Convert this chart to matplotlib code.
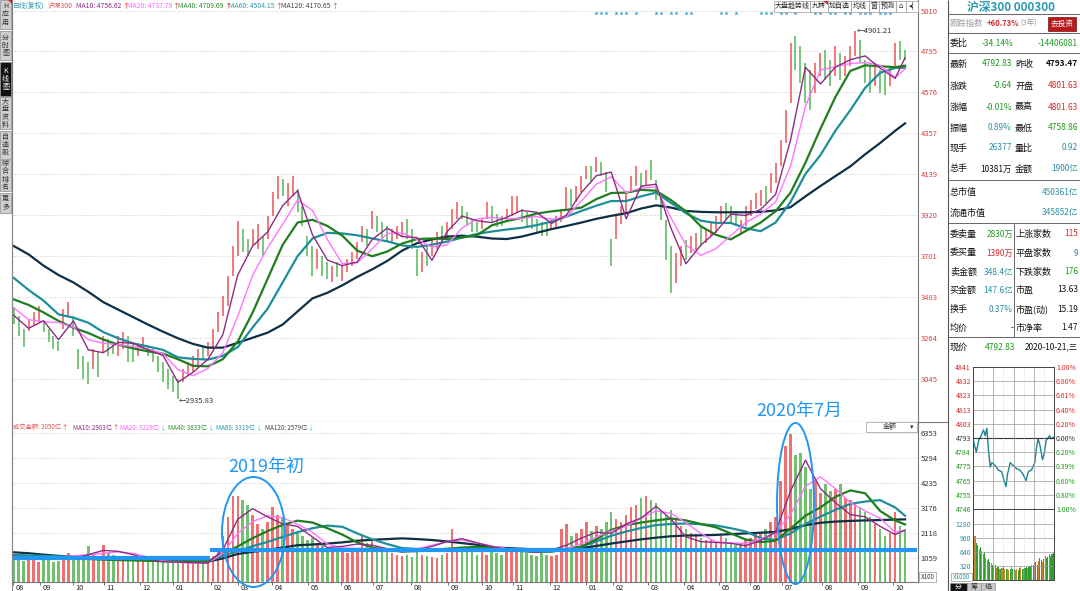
import numpy as np
import matplotlib.pyplot as plt
from matplotlib.patches import Ellipse, Rectangle, Polygon
from matplotlib.transforms import blended_transform_factory

plt.rcParams['font.family'] = ['Noto Sans CJK SC', 'DejaVu Sans']

# ---  DATA  --- #
# Daily K line of CSI 300, one bar every 3 trading days (Aug 2018 - Oct 2020)
k_high = [3427, 3383, 3311, 3365, 3400, 3436, 3356, 3311, 3276, 3249,
          3418, 3454, 3383, 3205, 3169, 3133, 3205, 3187, 3276, 3258,
          3240, 3276, 3293, 3276, 3240, 3222, 3267, 3222, 3205, 3169,
          3133, 3098, 3062, 3044, 3098, 3133, 3169, 3205, 3222, 3240,
          3311, 3400, 3489, 3596, 3756, 3890, 3845, 3792, 3845, 3872,
          3810, 3916, 4041, 4130, 4112, 4094, 4130, 4059, 3970, 3810,
          3756, 3738, 3703, 3667, 3649, 3667, 3649, 3685, 3721, 3774,
          3863, 3845, 3943, 3916, 3881, 3863, 3845, 3863, 3881, 3899,
          3845, 3738, 3721, 3756, 3792, 3828, 3863, 3881, 3952, 3988,
          3970, 3934, 3899, 3881, 3899, 3988, 3970, 3925, 3916, 3952,
          4023, 4023, 3952, 3934, 3916, 3899, 3881, 3872, 3899, 3916,
          3952, 4068, 4059, 4077, 4130, 4184, 4184, 4228, 4201, 4148,
          3792, 3916, 3970, 4038, 4127, 4181, 4145, 4163, 4216, 4110,
          4038, 3896, 3754, 3718, 3754, 3789, 3807, 3825, 3860, 3843,
          3878, 3914, 3967, 3985, 3967, 3932, 3896, 3967, 4003, 4038,
          4056, 4074, 4145, 4199, 4323, 4483, 4839, 4875, 4822, 4733,
          4697, 4733, 4786, 4804, 4750, 4822, 4786, 4768, 4822, 4901,
          4857, 4750, 4715, 4733, 4697, 4679, 4715, 4839, 4848, 4804]
k_low = [3338, 3276, 3213, 3302, 3329, 3347, 3293, 3240, 3204, 3196,
         3311, 3382, 3276, 3098, 3044, 3018, 3098, 3053, 3187, 3169,
         3178, 3169, 3205, 3133, 3133, 3169, 3205, 3169, 3133, 3080,
         3027, 2990, 2973, 2936, 3027, 3062, 3080, 3116, 3151, 3169,
         3205, 3293, 3382, 3436, 3596, 3703, 3721, 3703, 3756, 3738,
         3703, 3792, 3916, 4005, 4023, 3970, 4023, 3934, 3863, 3703,
         3596, 3632, 3596, 3578, 3561, 3587, 3569, 3614, 3649, 3685,
         3774, 3756, 3845, 3828, 3792, 3774, 3774, 3792, 3810, 3792,
         3738, 3596, 3614, 3649, 3703, 3738, 3774, 3792, 3845, 3899,
         3899, 3863, 3828, 3828, 3845, 3899, 3881, 3854, 3863, 3881,
         3916, 3934, 3881, 3863, 3845, 3828, 3810, 3810, 3845, 3854,
         3881, 3952, 3970, 3988, 4041, 4112, 4095, 4148, 4130, 4041,
         3650, 3792, 3870, 3932, 4038, 4074, 4056, 4074, 4110, 4003,
         3896, 3682, 3504, 3558, 3647, 3682, 3718, 3736, 3754, 3771,
         3807, 3825, 3878, 3896, 3878, 3860, 3825, 3860, 3914, 3950,
         3967, 3985, 4038, 4092, 4181, 4305, 4519, 4697, 4626, 4519,
         4483, 4572, 4661, 4644, 4608, 4661, 4644, 4661, 4715, 4768,
         4733, 4626, 4572, 4608, 4572, 4563, 4608, 4715, 4750, 4750]
k_dir = ('gggrrrgggg' 'rrggggrgrg' 'grrggrrggg' 'ggggrrrrgr' 'rrrrrrggrr'
         'grrrgrrggg' 'grggrgrrrr' 'rgrgggrrrg' 'ggrgrrgrrr' 'ggggrrgggr'
         'rrggggggrr' 'rrgrrrgrgg' 'grrrrrgrgg' 'gggrrgrrgr' 'rrrgggrrrr'
         'rgrrrrrggg' 'grrggrgrrr' 'gggrggrrgg')
period_high, period_low = 4901.21, 2935.83
# Turnover (成交金额) per bar
amount = [1100, 1000, 950, 980, 1050, 900, 1000, 980, 880, 950,
          1150, 1250, 1050, 1200, 1100, 1550, 1200, 1100, 1600, 1300,
          1200, 1100, 1000, 1050, 980, 1100, 1000, 1050, 950, 900,
          900, 850, 950, 900, 850, 880, 820, 900, 870, 950,
          1150, 1400, 2000, 2800, 3700, 3700, 3500, 3300, 2900, 2500,
          2300, 2600, 3200, 2900, 2800, 2500, 2300, 2100, 2000, 1800,
          1900, 1700, 1600, 1500, 1400, 1300, 1350, 1250, 1300, 1500,
          2000, 1700, 1900, 1500, 1400, 1300, 1250, 1200, 1150, 1200,
          1100, 1300, 1200, 1150, 1100, 1050, 1200, 1250, 2300, 1350,
          1300, 1400, 1300, 1200, 1300, 1200, 1350, 1250, 1200, 1300,
          1400, 1500, 1300, 1250, 1200, 1150, 1250, 1200, 1150, 1200,
          2300, 2500, 2000, 2100, 2300, 2600, 2200, 2400, 2300, 2600,
          3000, 2700, 2600, 2900, 3200, 3300, 3600, 3700, 3500, 3400,
          3000, 2900, 3100, 2700, 2400, 2300, 2100, 2000, 1900, 1800,
          1800, 1700, 2000, 1900, 1700, 1600, 1700, 1800, 1900, 2100,
          2100, 2300, 2600, 2800, 4300, 5800, 6300, 5400, 5500, 4900,
          4000, 4300, 3800, 4200, 3900, 4000, 4200, 3600, 3500, 3400,
          3200, 3000, 2800, 2500, 2300, 2000, 2100, 3000, 2400, 2200]

# Moving averages sampled every 3 bars (bar index list)
ma_bars = list(range(0, 178, 3)) + [179]
ma10 = [3385, 3315, 3356, 3255, 3355, 3200, 3185, 3240, 3235, 3200,
        3170, 3027, 3080, 3150, 3280, 3600, 3755, 3830, 3970, 4050,
        3815, 3680, 3650, 3670, 3790, 3850, 3805, 3800, 3678, 3830,
        3915, 3890, 3880, 3908, 3945, 3935, 3875, 3920, 4040, 4130,
        4150, 3900, 4075, 4085, 3850, 3660, 3760, 3830, 3925, 3918,
        3950, 4030, 4320, 4710, 4620, 4710, 4750, 4770, 4705, 4650, 4760]
ma20 = [3425, 3362, 3350, 3347, 3320, 3255, 3235, 3228, 3218, 3205,
        3180, 3095, 3062, 3100, 3185, 3380, 3600, 3745, 3870, 4000,
        3945, 3790, 3660, 3665, 3740, 3822, 3825, 3790, 3750, 3760,
        3850, 3899, 3908, 3900, 3902, 3912, 3898, 3910, 3995, 4085,
        4125, 4040, 4065, 4070, 3905, 3760, 3705, 3740, 3810, 3880,
        3925, 3990, 4180, 4500, 4695, 4712, 4730, 4735, 4720, 4655, 4700]
ma40 = [3470, 3440, 3400, 3355, 3318, 3290, 3255, 3228, 3208, 3192,
        3180, 3150, 3115, 3112, 3150, 3245, 3400, 3580, 3760, 3880,
        3895, 3862, 3810, 3730, 3700, 3725, 3768, 3792, 3795, 3792,
        3800, 3812, 3865, 3888, 3905, 3928, 3940, 3948, 3960, 4005,
        4038, 4040, 4055, 4050, 4000, 3940, 3860, 3815, 3790, 3835,
        3880, 3940, 4040, 4200, 4380, 4550, 4690, 4720, 4715, 4710, 4718]
ma60 = [3585, 3520, 3463, 3390, 3372, 3345, 3295, 3262, 3235, 3218,
        3200, 3160, 3152, 3148, 3168, 3215, 3320, 3420, 3560, 3700,
        3795, 3825, 3822, 3812, 3795, 3780, 3758, 3750, 3762, 3778,
        3800, 3819, 3832, 3843, 3852, 3866, 3885, 3912, 3942, 3970,
        3995, 3995, 4020, 4040, 3985, 3930, 3890, 3878, 3878, 3850,
        3834, 3880, 3990, 4140, 4240, 4370, 4480, 4600, 4680, 4706, 4708]
ma120 = [3755, 3710, 3650, 3600, 3560, 3510, 3455, 3415, 3375, 3335,
         3297, 3262, 3232, 3212, 3212, 3238, 3265, 3292, 3335, 3405,
         3475, 3505, 3545, 3590, 3630, 3675, 3730, 3770, 3790, 3805,
         3810, 3805, 3795, 3792, 3805, 3825, 3845, 3862, 3880, 3900,
         3916, 3930, 3955, 3972, 3960, 3942, 3937, 3935, 3935, 3935,
         3937, 3945, 3962, 4020, 4075, 4128, 4180, 4245, 4305, 4370, 4410]
vma10 = [1015, 1020, 1030, 1040, 1050, 1200, 1380, 1340, 1200, 1000,
         900, 880, 860, 840, 1400, 2700, 3150, 2800, 2500, 2400,
         1950, 1500, 1550, 1650, 1600, 1450, 1320, 1400, 1550, 1750,
         1880, 1700, 1550, 1420, 1350, 1300, 1400, 1600, 1900, 2150,
         2100, 2500, 2750, 3250, 2700, 1950, 1750, 1720, 1680, 1580,
         1800, 2150, 3900, 5200, 4000, 3400, 2900, 2800, 2400, 2050, 2240]
vma20 = [1045, 1060, 1080, 1100, 1150, 1200, 1250, 1320, 1250, 1100,
         930, 880, 840, 840, 1250, 2100, 2600, 2850, 2760, 2500,
         2150, 1650, 1480, 1467, 1460, 1420, 1330, 1450, 1600, 1750,
         1820, 1700, 1560, 1460, 1370, 1330, 1340, 1450, 1670, 1950,
         2200, 2400, 2750, 3050, 2950, 2550, 2100, 1740, 1700, 1680,
         1850, 2150, 2900, 4100, 4500, 4000, 3400, 3050, 2740, 2150, 2240]
vma40 = [1115, 1100, 1080, 1060, 1040, 1020, 990, 970, 955, 940,
         925, 910, 900, 905, 1250, 1550, 1900, 2200, 2460, 2640,
         2560, 2320, 2050, 1720, 1500, 1400, 1330, 1350, 1400, 1450,
         1500, 1530, 1480, 1400, 1350, 1320, 1330, 1420, 1540, 1850,
         2250, 2450, 2560, 2650, 2730, 2650, 2500, 2360, 2100, 1840,
         1730, 1790, 2300, 2850, 3200, 3650, 3920, 3800, 3050, 2650, 2480]
vma60 = [1185, 1170, 1150, 1130, 1110, 1090, 1060, 1030, 1000, 970,
         940, 920, 905, 910, 1150, 1350, 1560, 1740, 1950, 2150,
         2320, 2430, 2380, 2100, 1850, 1650, 1480, 1440, 1400, 1410,
         1430, 1460, 1500, 1420, 1370, 1330, 1340, 1430, 1540, 1760,
         2000, 2180, 2330, 2450, 2500, 2520, 2490, 2440, 2320, 2180,
         1900, 1820, 2100, 2500, 2810, 3100, 3350, 3450, 3510, 3200, 2850]
vma120 = [1300, 1260, 1200, 1150, 1110, 1085, 1060, 1040, 1015, 990,
          960, 935, 910, 902, 1040, 1230, 1320, 1400, 1500, 1600,
          1630, 1670, 1720, 1790, 1830, 1860, 1890, 1860, 1820, 1760,
          1690, 1620, 1510, 1480, 1450, 1420, 1400, 1430, 1470, 1570,
          1670, 1760, 1850, 1920, 1980, 2010, 2020, 2035, 2070, 2100,
          2130, 2165, 2280, 2450, 2550, 2600, 2630, 2650, 2667, 2685, 2695]

# Hand-drawn base levels in the turnover panel
base_left, base_right, base_split = 1072, 1398, 39.5

# Month ticks (bar index) and labels
month_bars = [-0.1, 5.3, 11.9, 18.1, 25.4, 32.0, 39.6, 45.0, 51.9, 59.1, 65.7, 72.2,
              79.8, 87.2, 94.0, 100.3, 107.7, 114.9, 120.3, 127.4, 134.6, 141.6,
              147.9, 154.3, 162.3, 169.5, 176.6]
month_labels = ['08', '09', '10', '11', '12', '01', '02', '03', '04', '05', '06', '07',
                '08', '09', '10', '11', '12', '01', '02', '03', '04', '05', '06', '07',
                '08', '09', '10']
price_ticks = [5010, 4795, 4576, 4357, 4139, 3920, 3701, 3483, 3264, 3045]
amount_ticks = [6353, 5294, 4235, 3176, 2118, 1059]
news_bars = [117, 118, 119, 121, 122, 123, 125, 129, 130, 132, 133, 135, 136,
             142, 143, 145, 150, 151, 152, 154, 155, 157, 161, 162, 164, 165,
             167, 168, 170, 171, 172, 174, 175, 176]

# Intraday (2020-10-21)
min_t = [0, 4, 10, 17, 24, 31, 36, 41, 46, 51, 56, 66, 75, 85, 92, 98, 102, 110,
         120, 129, 139, 149, 157, 164, 173, 183, 188, 193, 198, 206, 211, 217,
         227, 232, 239]
min_p = [4793, 4789, 4784, 4792, 4795, 4799, 4795, 4800, 4785, 4774, 4777, 4775,
         4772, 4771, 4765, 4761, 4769, 4777, 4775, 4773, 4772, 4769, 4765, 4771,
         4772, 4777, 4787, 4793, 4789, 4779, 4783, 4792, 4795, 4793, 4794]
min_vol = [900, 1000, 850, 800, 700, 750, 650, 600, 640, 500,
           450, 480, 400, 380, 350, 300, 330, 280, 300, 260,
           250, 280, 300, 250, 240, 260, 230, 250, 300, 260,
           240, 220, 250, 230, 280, 300, 260, 250, 270, 300,
           280, 320, 300, 350, 330, 380, 400, 350, 420, 500,
           450, 400, 480, 550, 500, 520, 600, 550, 580, 620]
min_vol_dir = ('goggogoggo' 'oggogggogo' 'gogogoogog' 'googgogogg'
               'oggogoggog' 'gogoggoggg')
min_price_labels = ['4746', '4755', '4765', '4775', '4784', '4793',
                    '4803', '4813', '4823', '4832', '4841']
min_pct_labels = ['1.00%', '0.80%', '0.60%', '0.39%', '0.20%', '0.00%',
                  '0.20%', '0.40%', '0.61%', '0.80%', '1.00%']

# Quote panel
quote_rows = [
    (64, '最新', '4792.83', 'g', '昨收', '4793.47', 'k'),
    (86, '涨跌', '-0.64', 'g', '开盘', '4801.63', 'r'),
    (107, '涨幅', '-0.01%', 'g', '最高', '4801.63', 'r'),
    (128, '振幅', '0.89%', 't', '最低', '4758.86', 'g'),
    (148, '现手', '26377', 't', '量比', '0.92', 't'),
    (169, '总手', '10381万', 'k', '金额', '1900亿', 't'),
]
depth_rows = [
    (234, '委卖量', '2830万', 'g', '上涨家数', '115', 'r'),
    (253, '委买量', '1390万', 'r', '平盘家数', '9', 't'),
    (272, '卖金额', '348.4亿', 't', '下跌家数', '176', 'g'),
    (290, '买金额', '147.6亿', 't', '市盈', '13.63', 'k'),
    (309, '换手', '0.37%', 't', '市盈(动)', '15.19', 'k'),
    (328, '均价', '-', 'k', '市净率', '1.47', 'k'),
]

# ---  STYLE  --- #
W, H = 1080, 591
UP, DOWN = '#ee7070', '#6fc06f'
C10, C20, C40, C60, C120 = '#8e2b84', '#ff74ff', '#1f7f1f', '#1f8e9b', '#0f2f44'
MARK = '#2196f3'
TXT = {'r': '#d42a2a', 'g': '#1f9a1f', 't': '#2b8fa6', 'k': '#111111'}
GRID = dict(color='#bcbcbc', ls=(0, (1, 2)), lw=0.6)


def rect(x0, y0, x1, y1):
    return [x0 / W, 1 - y1 / H, (x1 - x0) / W, (y1 - y0) / H]


fig = plt.figure(figsize=(W / 100, H / 100), dpi=100)
ax = fig.add_axes(rect(12, 0, 918, 421.5))
axv = fig.add_axes(rect(12, 421.5, 918, 582))
axm = fig.add_axes(rect(973, 367, 1054, 509))
axmv = fig.add_axes(rect(973, 509, 1054, 580))

bars = np.arange(len(k_high))
colors = [UP if c == 'r' else DOWN for c in k_dir]

# Price panel
ax.vlines(bars, k_low, k_high, colors=colors, lw=1.3)
for vals, c, lw in [(ma120, C120, 1.6), (ma60, C60, 1.6), (ma40, C40, 1.6),
                    (ma20, C20, 1.0), (ma10, C10, 1.0)]:
    ax.plot(ma_bars, vals, color=c, lw=lw, solid_joinstyle='round')
ax.set_xlim(-0.333, 181.6)
ax.set_ylim(2817.5, 5068.8)
ax.set_yticks(price_ticks)
ax.yaxis.tick_right()
ax.tick_params(axis='y', length=0, pad=2, labelsize=5.5, labelcolor='#d94040')
ax.set_xticks([])
ax.yaxis.grid(True, **GRID)
ax.set_axisbelow(True)
ax.spines['top'].set_visible(False)
for s in ('left', 'right', 'bottom'):
    ax.spines[s].set_color('#777')
    ax.spines[s].set_linewidth(0.8)
ib = int(np.argmax(k_high))
ax.text(ib + 0.2, k_high[ib], f'\u2190{period_high:.2f}',
        fontsize=5.5, color='#333', va='center', ha='left')
il = int(np.argmin(k_low))
ax.text(il + 0.2, k_low[il] - 8, f'\u2190{period_low:.2f}',
        fontsize=5.5, color='#333', va='center', ha='left')
trans = blended_transform_factory(ax.transData, ax.transAxes)
ax.plot(news_bars, np.full(len(news_bars), 0.969), transform=trans, ls='none',
        marker='*', ms=3.2, color='#3a9ad0', mec='none')

# Turnover panel
axv.bar(bars, amount, width=0.5, color=colors, linewidth=0)
for vals, c, lw in [(vma120, C120, 1.6), (vma60, C60, 1.6), (vma40, C40, 1.6),
                    (vma20, C20, 1.0), (vma10, C10, 1.0)]:
    axv.plot(ma_bars, vals, color=c, lw=lw, solid_joinstyle='round')
axv.hlines(base_left, -0.3, base_split, color=MARK, lw=3)
axv.hlines(base_right, base_split, 181.4, color=MARK, lw=3)
axv.set_xlim(-0.333, 181.6)
axv.set_ylim(42, 6840)
axv.set_yticks(amount_ticks)
axv.yaxis.tick_right()
axv.tick_params(axis='y', length=0, pad=2, labelsize=5.5, labelcolor='#333')
axv.set_xticks(month_bars)
axv.tick_params(axis='x', length=2.5, width=0.6, color='#555', labelbottom=False)
axv.yaxis.grid(True, **GRID)
axv.set_axisbelow(True)
axv.spines['top'].set_visible(False)
for s in ('left', 'right', 'bottom'):
    axv.spines[s].set_color('#777')
    axv.spines[s].set_linewidth(0.8)
tv = blended_transform_factory(axv.transData, axv.transAxes)
for m, lab in zip(month_bars, month_labels):
    axv.text(m + 0.5, -0.015, lab, transform=tv, ha='left', va='top', fontsize=5.3, color='#222')

# Intraday price
axm.plot(min_t, min_p, color='#1a8394', lw=1.0)
axm.set_xlim(0, 240)
axm.set_ylim(4746, 4841)
lv = np.linspace(4746, 4841, 11)
axm.set_yticks(lv)
axm.set_yticklabels(min_price_labels)
axm.tick_params(axis='y', length=0, pad=1.5, labelsize=5)
axm.set_xticks([])
for i, t in enumerate(axm.get_yticklabels()):
    t.set_color(TXT['g'] if i < 5 else ('#333' if i == 5 else TXT['r']))
axr = axm.twinx()
axr.set_ylim(4746, 4841)
axr.set_yticks(lv)
axr.set_yticklabels(min_pct_labels)
axr.tick_params(axis='y', length=0, pad=1.5, labelsize=5)
for i, t in enumerate(axr.get_yticklabels()):
    t.set_color(TXT['g'] if i < 5 else ('#333' if i == 5 else TXT['r']))
for v in lv:
    mid = abs(v - 4793.5) < 1
    axm.axhline(v, color='#333' if mid else '#999', lw=0.8 if mid else 0.5)
for x in (60, 120, 180):
    axm.axvline(x, color='#999', lw=0.5)
for x in (30, 90, 150, 210):
    axm.axvline(x, color='#bbb', lw=0.5, ls=(0, (1, 2)))
for a in (axm, axr):
    for s in a.spines.values():
        s.set_color('#444')
        s.set_linewidth(0.7)

# Intraday volume
mt = np.arange(len(min_vol)) * 4 + 2
axmv.bar(mt, min_vol, width=3.2, linewidth=0,
         color=['#2e9e2e' if c == 'g' else '#c8862a' for c in min_vol_dir])
axmv.set_xlim(0, 240)
axmv.set_ylim(0, 1610)
axmv.set_yticks([320, 640, 960, 1280])
axmv.tick_params(axis='y', length=0, pad=1.5, labelsize=5, labelcolor='#2b8fa6')
axmv.set_xticks([])
for v in (320, 640, 960, 1280):
    axmv.axhline(v, color='#999', lw=0.5)
for x in (60, 120, 180):
    axmv.axvline(x, color='#999', lw=0.5)
for x in (30, 90, 150, 210):
    axmv.axvline(x, color='#bbb', lw=0.5, ls=(0, (1, 2)))
axmv.set_axisbelow(True)
for s in axmv.spines.values():
    s.set_color('#444')
    s.set_linewidth(0.7)

# ---  OVERLAY (pixel coordinates)  --- #
ov = fig.add_axes([0, 0, 1, 1])
ov.set_xlim(0, W)
ov.set_ylim(H, 0)
ov.axis('off')


def line(x0, y0, x1, y1, c='#666', lw=0.7):
    ov.plot([x0, x1], [y0, y1], color=c, lw=lw, solid_capstyle='butt')


def txt(x, y, s, c='#111', fs=6, ha='left', **kw):
    return ov.text(x, y, s, color=c, fontsize=fs, ha=ha, va='center', **kw)


def after(t, s, c, fs, gap=0.3):
    # put a small text right after an existing text
    return ov.annotate(s, xy=(1, 0.5), xycoords=t, xytext=(gap, 0), textcoords='offset points',
                       color=c, fontsize=fs, ha='left', va='center')


# side tabs
tabs = [('H\n应\n用', 0, 29, False), ('分\n时\n图', 31, 60, False), ('K\n线\n图', 62, 96, True),
        ('大\n盘\n资\n料', 97, 129, False), ('自\n选\n股', 131, 159, False),
        ('综\n合\n排\n名', 160, 191, False), ('更\n多', 193, 213, False)]
for s, y0, y1, sel in tabs:
    ov.add_patch(Rectangle((0, y0), 11, y1 - y0, fc='#111' if sel else '#cfcfcf',
                           ec='#888', lw=0.5))
    txt(5.5, (y0 + y1) / 2, s, c='white' if sel else '#333', fs=5, ha='center', linespacing=1.0)
ov.add_patch(Polygon([[8, 0], [12, 0], [12, 4]], fc='#e02020', ec='none'))
line(11.5, 213, 11.5, 591, '#888', 0.8)

# header texts
hdr = [(13, '日线(复权)', '#2a9aaa', False), (48, '沪深300', '#e05050', False),
       (76, 'MA10: 4756.62', C10, True), (127, 'MA20: 4737.79', '#ff66ff', True),
       (178, 'MA40: 4709.69', '#2e8b2e', True), (229, 'MA60: 4504.15', '#2a9aaa', True),
       (281, 'MA120: 4170.65', '#444', True)]
for x, s, c, arrow in hdr:
    t = txt(x, 6, s, c, fs=4.9)
    if arrow:
        after(t, '\u2191', '#e03030', 4.9)
vhdr = [(13, '成交金额: 3050亿', '#e05050', '\u2191', '#e03030'),
        (73, 'MA10: 2903亿', C10, '\u2191', '#e03030'),
        (120, 'MA20: 3228亿', '#ff66ff', '\u2193', '#40c8e0'),
        (168, 'MA40: 3833亿', '#2e8b2e', '\u2193', '#40c8e0'),
        (216, 'MA60: 3319亿', '#2a9aaa', '\u2193', '#40c8e0'),
        (265, 'MA120: 2579亿', '#444', '\u2193', '#40c8e0')]
for x, s, c, a, ca in vhdr:
    t = txt(x, 427.5, s, c, fs=4.5)
    after(t, a, ca, 4.5)
ov.add_patch(Rectangle((866, 422), 51, 10, fc='white', ec='#999', lw=0.5))
txt(890, 427, '金额', '#333', fs=5, ha='center')
txt(912, 427, '\u25be', '#333', fs=5, ha='center')

# toolbar
tools = [('大盘趋势线', 774, 810), ('九转', 810, 828), ('加自选', 828, 851), ('均线', 851, 869),
         ('窗', 869, 879), ('预测', 879, 896), ('\u2302', 896, 906), ('\u25c2|', 906, 918)]
for s, x0, x1 in tools:
    ov.add_patch(Rectangle((x0, 0.5), x1 - x0, 11, fc='white', ec='#999', lw=0.5))
    txt((x0 + x1) / 2, 6, s, '#222', fs=5, ha='center')
ov.add_patch(Polygon([[823, 0.5], [828, 0.5], [828, 5]], fc='#e02020', ec='none'))

# frame lines
line(918, 421.5, 948, 421.5, '#777', 0.8)
line(948, 0, 948, 591, '#555', 0.8)
ov.add_patch(Rectangle((919, 572), 17, 10, fc='white', ec='#999', lw=0.5))
txt(927.5, 577, 'X100', '#333', fs=4.5, ha='center')

# annotations
ov.add_patch(Ellipse((253.5, 532), 63, 110, fill=False, ec=MARK, lw=1.4))
ov.add_patch(Ellipse((795.5, 503.5), 37, 161, fill=False, ec=MARK, lw=1.4))
txt(266, 467, '2019年初', MARK, fs=13, ha='center')
txt(799, 411, '2020年7月', MARK, fs=13, ha='center')

# quote panel
txt(1011, 7, '沪深300 000300', '#2a9ab0', fs=8.5, ha='center', fontweight='bold')
for y in (13.5, 33, 53, 180, 223, 337):
    line(948, y, 1080, y, '#666', 0.7)
line(1014, 223, 1014, 337, '#666', 0.7)
txt(950, 23.5, '跟踪指数', '#9a9a9a', fs=6)
t = txt(987, 23.5, '+60.73%', TXT['r'], fs=5.5, fontweight='bold')
after(t, '[3年]', '#9a9a9a', 5.5, gap=0.5)
ov.add_patch(Rectangle((1048, 16.5), 28, 14, fc='#b71c1c', ec='#7a0e0e', lw=0.5))
txt(1062, 23.5, '去投资', 'white', fs=5.5, ha='center')
txt(950, 43, '委比', TXT['k'], fs=6.5)
txt(1013, 43, '-34.14%', TXT['g'], fs=6, ha='right')
txt(1078, 43, '-14406081', TXT['g'], fs=6, ha='right')
for y, l1, v1, c1, l2, v2, c2 in quote_rows:
    txt(950, y, l1, TXT['k'], fs=6.5)
    txt(1012, y, v1, TXT[c1], fs=6, ha='right')
    txt(1015, y, l2, TXT['k'], fs=6.5)
    txt(1078, y, v2, TXT[c2], fs=6, ha='right', fontweight='bold' if c2 == 'k' else 'normal')
txt(950, 192, '总市值', TXT['k'], fs=6.5)
txt(1078, 192, '450361亿', TXT['t'], fs=6, ha='right')
txt(950, 213, '流通市值', TXT['k'], fs=6.5)
txt(1078, 213, '345852亿', TXT['t'], fs=6, ha='right')
for y, l1, v1, c1, l2, v2, c2 in depth_rows:
    txt(950, y, l1, TXT['k'], fs=6.5)
    txt(1013, y, v1, TXT[c1], fs=6, ha='right')
    txt(1015, y, l2, TXT['k'], fs=6.5)
    txt(1078, y, v2, TXT[c2], fs=6, ha='right')
txt(950, 347, '现价', TXT['k'], fs=6.5)
txt(1000, 347, '4792.83', TXT['g'], fs=6, ha='center')
txt(1078, 347, '2020-10-21,三', TXT['k'], fs=6, ha='right')
ov.add_patch(Rectangle((951, 573), 21, 8, fc='white', ec='#999', lw=0.5))
txt(961.5, 577, 'X1000', '#2b8fa6', fs=4.5, ha='center')
for s, x0, x1, sel in [('分', 950, 967, True), ('筹', 967, 981, False), ('焰', 981, 995, False)]:
    ov.add_patch(Rectangle((x0, 582.5), x1 - x0, 8.5, fc='#111' if sel else '#c8c8c8', ec='#888', lw=0.4))
    txt((x0 + x1) / 2, 587, s, 'white' if sel else '#333', fs=5, ha='center')

plt.savefig('out.png', dpi=100)
